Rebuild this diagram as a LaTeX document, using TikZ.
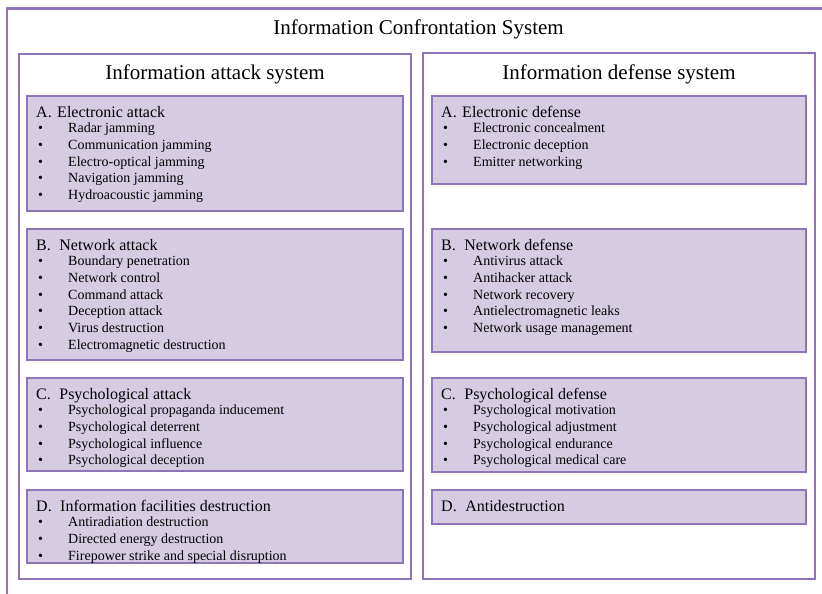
\documentclass[tikz,border=0pt]{standalone}
\usepackage{fontspec}
\setmainfont{Liberation Serif}
\usetikzlibrary{fit}
\definecolor{lav}{HTML}{D5CCE1}
\definecolor{pur}{HTML}{8F74B7}
\tikzset{
  frame/.style={draw=pur, line width=2.2pt, fill=white, inner sep=0pt, outer sep=0pt},
  subbox/.style={draw=pur, line width=2.2pt, fill=lav, inner sep=0pt, outer sep=0pt},
  ttl/.style={anchor=base, font=\fontsize{21}{24}\selectfont, inner sep=0pt},
  hd/.style={anchor=base west, font=\fontsize{16}{18}\selectfont, inner sep=0pt},
  itm/.style={anchor=base west, font=\fontsize{14}{16}\selectfont, inner sep=0pt},
}
% name, xleft, ytop, xright, ybottom, header, items
\newcommand\mkbox[7]{%
  \node[subbox, fit={(#2,-#3)(#4,-#5)}] (#1) {};
  \node[hd] (#1-h) at (#2+9,-#3-21.3) {#6};
  \foreach \t [count=\i from 0] in {#7} {
    \node[itm] (#1-b\i) at (#2+11,-#3-36.6-16.75*\i) {•};
    \node[itm] (#1-t\i) at (#2+41,-#3-36.6-16.75*\i) {\t};
  }
}
\newcommand\mkhead[6]{%
  \node[subbox, fit={(#2,-#3)(#4,-#5)}] (#1) {};
  \node[hd] (#1-h) at (#2+9,-#3-21.3) {#6};
}
\begin{document}
\begin{tikzpicture}[x=1pt,y=1pt]
\useasboundingbox (0,0) rectangle (822,-594);
\clip (0,0) rectangle (822,-594);
\node[frame, fit={(7,-8.5)(840,-620)}] (outer) {};
\node[ttl] (title) at (418.5,-35) {Information Confrontation System};

\node[frame, fit={(19,-54)(411,-579)}] (att) {};
\node[ttl] (atttitle) at (215,-80) {Information attack system};
\node[frame, fit={(423,-53)(815,-579)}] (def) {};
\node[ttl] (deftitle) at (619,-80) {Information defense system};

\mkbox{la}{27}{96}{403}{211}{A.\hspace{5.5pt}Electronic attack}{Radar jamming,Communication jamming,Electro-optical jamming,Navigation jamming,Hydroacoustic jamming}
\mkbox{lb}{27}{229}{403}{360}{B.\hspace{8.5pt}Network attack}{Boundary penetration,Network control,Command attack,Deception attack,Virus destruction,Electromagnetic destruction}
\mkbox{lc}{27}{378}{403}{471}{C.\hspace{8.5pt}Psychological attack}{Psychological propaganda inducement,Psychological deterrent,Psychological influence,Psychological deception}
\mkbox{ld}{27}{490}{403}{563}{D.\hspace{8.5pt}Information facilities destruction}{Antiradiation destruction,Directed energy destruction,Firepower strike and special disruption}

\mkbox{ra}{432}{96}{806}{184}{A.\hspace{5.5pt}Electronic defense}{Electronic concealment,Electronic deception,Emitter networking}
\mkbox{rb}{432}{229}{806}{352}{B.\hspace{8.5pt}Network defense}{Antivirus attack,Antihacker attack,Network recovery,Antielectromagnetic leaks,Network usage management}
\mkbox{rc}{432}{378}{806}{472}{C.\hspace{8.5pt}Psychological defense}{Psychological motivation,Psychological adjustment,Psychological endurance,Psychological medical care}
\mkhead{rd}{432}{490}{806}{524}{D.\hspace{8.5pt}Antidestruction}
\end{tikzpicture}
\end{document}
